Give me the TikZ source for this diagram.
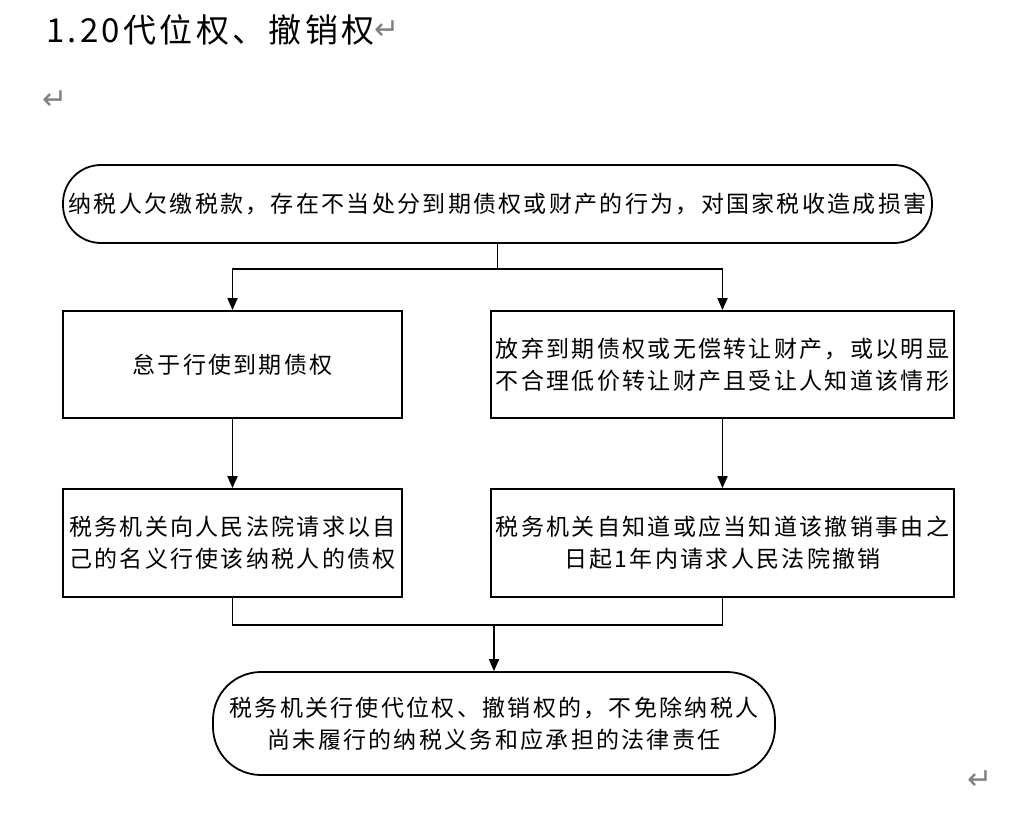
\documentclass[tikz,border=0pt]{standalone}
\usepackage{fontspec}
\setmainfont{Liberation Serif}
\newfontfamily\cjk[LetterSpace=10]{Noto Sans CJK SC}
\newfontfamily\symf{DejaVu Sans}
\usetikzlibrary{arrows.meta}
\tikzset{
  line/.style={line width=1.8pt, draw=black},
  arr/.style={line, -{Triangle[length=12pt,width=10pt]}},
  boxbase/.style={line, fill=white, inner sep=0pt, align=center,
    font=\cjk\fontsize{23}{32}\selectfont},
  rbox/.style={boxbase, rectangle},
  pill/.style={boxbase, rectangle, rounded corners=#1},
  retmark/.style={text=gray, inner sep=0pt, font=\symf\fontsize{30}{30}\selectfont}
}
\begin{document}
\begin{tikzpicture}[x=1pt,y=-1pt]
\useasboundingbox (0,0) rectangle (1015,816);
% title
\node[anchor=west, inner sep=0pt, font=\cjk\fontsize{33}{33}\selectfont] (title) at (46,30) {1.20代位权、撤销权};
\node[retmark, anchor=west] (r1) at (title.east) {↵};
\node[retmark] (r2) at (55,100) {↵};
\node[retmark] (r3) at (980,780) {↵};
% boxes
\node[pill=38pt, minimum width=869pt, minimum height=78pt] (top) at (497.5,204)
  {纳税人欠缴税款，存在不当处分到期债权或财产的行为，对国家税收造成损害};
\node[rbox, minimum width=339pt, minimum height=107pt] (L1) at (232.5,364.5)
  {怠于行使到期债权};
\node[rbox, minimum width=463pt, minimum height=107pt] (R1) at (722.5,364.5)
  {放弃到期债权或无偿转让财产，或以明显\\不合理低价转让财产且受让人知道该情形};
\node[rbox, minimum width=339pt, minimum height=108pt] (L2) at (232.5,543)
  {税务机关向人民法院请求以自\\己的名义行使该纳税人的债权};
\node[rbox, minimum width=463pt, minimum height=108pt] (R2) at (722.5,543)
  {税务机关自知道或应当知道该撤销事由之\\日起1年内请求人民法院撤销};
\node[pill=48pt, minimum width=562pt, minimum height=103pt] (bot) at (494,723.5)
  {税务机关行使代位权、撤销权的，不免除纳税人\\尚未履行的纳税义务和应承担的法律责任};
% connectors
\coordinate (j1) at (497.5,269);
\coordinate (j2) at (494,625);
\draw[line] (top.south) -- (j1);
\draw[arr] (j1) -| (L1.north);
\draw[arr] (j1) -| (R1.north);
\draw[arr] (L1.south) -- (L2.north);
\draw[arr] (R1.south) -- (R2.north);
\draw[line] (L2.south) |- (j2);
\draw[line] (R2.south) |- (j2);
\draw[arr] (j2) -- (bot.north);
\end{tikzpicture}
\end{document}
